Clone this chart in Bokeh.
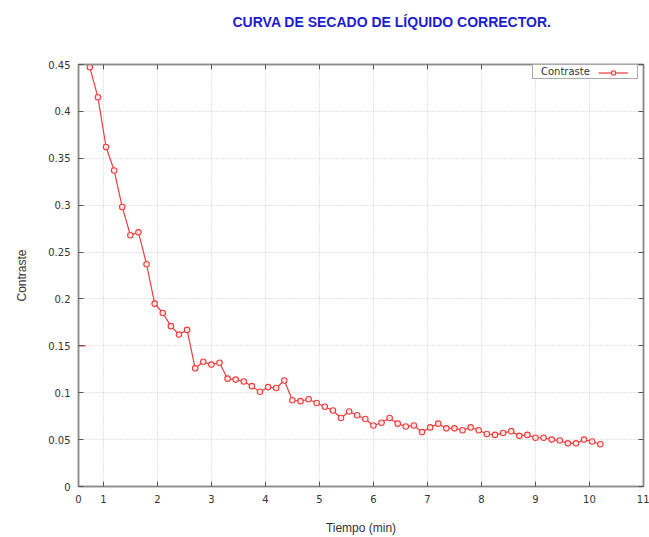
from bokeh.plotting import figure
from bokeh.embed import file_html
from bokeh.resources import INLINE
from bokeh.models import (FixedTicker, LinearAxis, Legend, LegendItem, Range1d)

# ---- data -------------------------------------------------------------
tiempo = [0.75, 0.9, 1.05, 1.2, 1.35, 1.5, 1.65, 1.8, 1.95, 2.1, 2.25, 2.4,
          2.55, 2.7, 2.85, 3.0, 3.15, 3.3, 3.45, 3.6, 3.75, 3.9, 4.05, 4.2,
          4.35, 4.5, 4.65, 4.8, 4.95, 5.1, 5.25, 5.4, 5.55, 5.7, 5.85, 6.0,
          6.15, 6.3, 6.45, 6.6, 6.75, 6.9, 7.05, 7.2, 7.35, 7.5, 7.65, 7.8,
          7.95, 8.1, 8.25, 8.4, 8.55, 8.7, 8.85, 9.0, 9.15, 9.3, 9.45, 9.6,
          9.75, 9.9, 10.05, 10.2]
contraste = [0.447, 0.415, 0.362, 0.337, 0.298, 0.268, 0.271, 0.237, 0.195,
             0.185, 0.171, 0.162, 0.167, 0.126, 0.133, 0.130, 0.132, 0.115,
             0.114, 0.112, 0.107, 0.101, 0.106, 0.105, 0.113, 0.092, 0.091,
             0.093, 0.089, 0.085, 0.081, 0.073, 0.080, 0.076, 0.072, 0.065,
             0.068, 0.073, 0.067, 0.064, 0.065, 0.058, 0.063, 0.067, 0.062,
             0.062, 0.060, 0.063, 0.060, 0.056, 0.055, 0.057, 0.059, 0.054,
             0.055, 0.052, 0.052, 0.050, 0.049, 0.046, 0.046, 0.050, 0.048,
             0.045]
# stray mark visible on the left border
extra_t = [0.6]
extra_c = [0.15]

x_ticks = [0.54, 1, 2, 3, 4, 5, 6, 7, 8, 9, 10, 11]
x_tick_labels = ["0", "1", "2", "3", "4", "5", "6", "7", "8", "9", "10", "11"]
y_ticks = [0, 0.05, 0.1, 0.15, 0.2, 0.25, 0.3, 0.35, 0.4, 0.45]
y_tick_labels = ["0", "0.05", "0.1", "0.15", "0.2", "0.25", "0.3", "0.35", "0.4", "0.45"]

TITLE = "CURVA DE SECADO DE LÍQUIDO CORRECTOR."
RED = "#ee3c3c"
GRAY = "#8a8a8a"
TXT = "#333333"
FONT = "DejaVu Sans"

W, H = 649, 537
ML, MR, MT, MB = 78, 6, 64, 50

p = figure(width=W, height=H, output_backend="svg", toolbar_location=None,
           x_range=Range1d(x_ticks[0], 11), y_range=Range1d(0, 0.45),
           min_border_left=ML, min_border_right=MR, min_border_top=MT,
           min_border_bottom=MB)

# trailing blank lines lift the title towards the top of the canvas
p.title.text = TITLE + "\n\n"
p.title.align = "left"
p.title.offset = 154
p.title.standoff = 6
p.title.text_font = "Liberation Sans"
p.title.text_font_size = "14px"
p.title.text_font_style = "bold"
p.title.text_color = "#1c1cd0"

p.outline_line_color = GRAY
p.outline_line_width = 1.5

# axes
for ax in (p.xaxis[0], p.yaxis[0]):
    ax.axis_line_color = GRAY
    ax.axis_line_width = 1.5
    ax.major_tick_in = 5
    ax.major_tick_out = 0
    ax.major_tick_line_color = "#555555"
    ax.minor_tick_line_color = None
    ax.major_label_text_font = FONT
    ax.major_label_text_font_size = "10px"
    ax.major_label_text_color = TXT
    ax.major_label_standoff = 8
    ax.axis_label_text_font = "Liberation Sans"
    ax.axis_label_text_font_size = "12px"
    ax.axis_label_text_font_style = "normal"
    ax.axis_label_text_color = TXT

p.xaxis[0].ticker = FixedTicker(ticks=x_ticks)
p.xaxis[0].major_label_overrides = dict(zip(x_ticks, x_tick_labels))
p.yaxis[0].ticker = FixedTicker(ticks=y_ticks)
p.yaxis[0].major_label_overrides = dict(zip(y_ticks, y_tick_labels))
p.xaxis[0].axis_label = "Tiempo (min)"
p.yaxis[0].axis_label = "Contraste"
p.xaxis[0].axis_label_standoff = 15
p.yaxis[0].axis_label_standoff = 16

# mirrored ticks (top / right), no labels
top_ax = LinearAxis(ticker=FixedTicker(ticks=x_ticks[1:]),
                    major_label_overrides={t: "" for t in x_ticks[1:]})
right_ax = LinearAxis(ticker=FixedTicker(ticks=y_ticks),
                      major_label_overrides={t: "" for t in y_ticks})
for ax in (top_ax, right_ax):
    ax.axis_line_color = GRAY
    ax.axis_line_width = 1.5
    ax.major_tick_in = 5
    ax.major_tick_out = 0
    ax.major_tick_line_color = "#555555"
    ax.minor_tick_line_color = None
    ax.major_label_standoff = 0
p.add_layout(top_ax, "above")
p.add_layout(right_ax, "right")

# grid
p.xgrid.ticker = FixedTicker(ticks=x_ticks[1:])
p.ygrid.ticker = FixedTicker(ticks=y_ticks)
for g in (p.xgrid[0], p.ygrid[0]):
    g.grid_line_color = "#c8c8c8"
    g.grid_line_dash = "1 2"
    g.grid_line_width = 1

# data
r_line = p.line(tiempo, contraste, line_color=RED, line_width=1.2)
r_pts = p.scatter(tiempo, contraste, marker="circle", size=5.5,
                  line_color=RED, line_width=1.1, fill_color="#ffe6e6")
p.scatter(extra_t, extra_c, marker="dash", size=8, line_color=RED,
          line_width=1.1)

# legend: text box (gnuplot style, text on the left, sample on the right)
dummy = p.scatter([], [], marker="circle", size=1, line_alpha=0, fill_alpha=0)
frame_w = W - ML - MR
frame_h = H - MT - MB
leg_text = Legend(items=[LegendItem(label="Contraste", renderers=[dummy])],
                  location=(frame_w - 111, frame_h - 16),
                  glyph_width=0, glyph_height=11, label_standoff=7,
                  label_width=95, label_height=11,
                  label_text_font=FONT, label_text_font_size="10px",
                  label_text_color=TXT, padding=1, margin=0, spacing=0,
                  border_line_color="#555555", border_line_width=1,
                  background_fill_color="white", background_fill_alpha=1)
leg_glyph = Legend(items=[LegendItem(label="", renderers=[r_line, r_pts])],
                   location=(frame_w - 45, frame_h - 15),
                   glyph_width=30, glyph_height=11, label_standoff=0,
                   label_width=0, label_height=11, label_text_font_size="9px",
                   padding=0, margin=0, spacing=0,
                   border_line_alpha=0, background_fill_alpha=0)
p.add_layout(leg_text)
p.add_layout(leg_glyph)

open("out.html", "w").write(file_html(p, INLINE))
